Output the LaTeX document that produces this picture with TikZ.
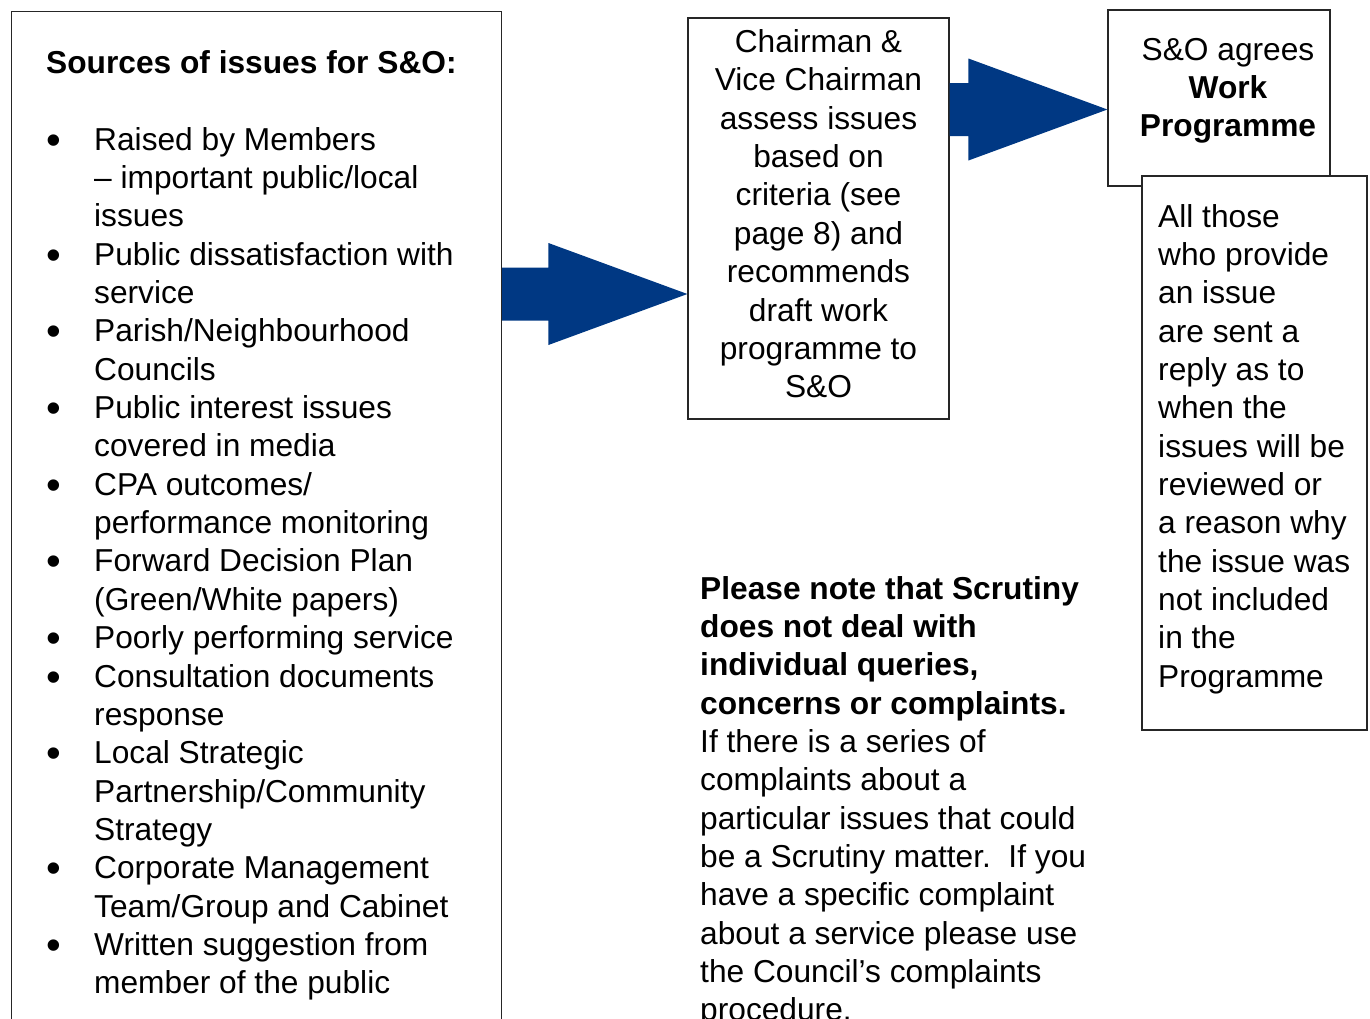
\documentclass[tikz,border=0pt]{standalone}
\usepackage{fontspec}
\setmainfont{Liberation Sans}
\usetikzlibrary{calc}

\definecolor{arrowblue}{RGB}{0,56,131}

\tikzset{
  box/.style={rectangle, draw=black!85, line width=1.2pt, fill=white, inner sep=0pt},
  txt/.style={inner sep=0pt, font=\fontsize{31.7}{38.36}\selectfont},
}

% bullet of the source list
\newcommand{\itembullet}{\raisebox{-4pt}{\fontsize{42}{38}\selectfont\textbullet}}

% fat block arrow, shaft from #1, tip at #2
\newcommand{\blockarrow}[2]{%
  \fill[arrowblue] ($(#1)+(0,-26.5)$) -- ($(#2)+(-139,-26.5)$) -- ($(#2)+(-139,-51)$)
    -- (#2) -- ($(#2)+(-139,51)$) -- ($(#2)+(-139,26.5)$) -- ($(#1)+(0,26.5)$) -- cycle;}

\begin{document}
\begin{tikzpicture}[x=1pt,y=-1pt]
\useasboundingbox (0,0) rectangle (1370,1018);
\clip (0,0) rectangle (1370,1018);

% sources
\node[box, anchor=north west, minimum width=490pt, minimum height=1100pt] (sources) at (11,11) {};
\node[txt, anchor=base west] (sourcetitle) at (46,73) {\textbf{Sources of issues for S\&O:}};
\node[txt, anchor=base west] (sourcelist) at (46,150) {%
\begin{tabular}[t]{@{}p{48pt}@{}l@{}}
\itembullet & Raised by Members\\
 & – important public/local\\
 & issues\\
\itembullet & Public dissatisfaction with\\
 & service\\
\itembullet & Parish/Neighbourhood\\
 & Councils\\
\itembullet & Public interest issues\\
 & covered in media\\
\itembullet & CPA outcomes/\\
 & performance monitoring\\
\itembullet & Forward Decision Plan\\
 & (Green/White papers)\\
\itembullet & Poorly performing service\\
\itembullet & Consultation documents\\
 & response\\
\itembullet & Local Strategic\\
 & Partnership/Community\\
 & Strategy\\
\itembullet & Corporate Management\\
 & Team/Group and Cabinet\\
\itembullet & Written suggestion from\\
 & member of the public
\end{tabular}};

% chairmen
\node[box, minimum width=261pt, minimum height=401pt] (assess) at (818.5,218.5) {};
\node[txt, anchor=base] (assesstxt) at (818.5,52.5) {%
\begin{tabular}[t]{@{}c@{}}
Chairman \&\\
Vice Chairman\\
assess issues\\
based on\\
criteria (see\\
page 8) and\\
recommends\\
draft work\\
programme to\\
S\&O
\end{tabular}};

% work programme
\node[box, minimum width=222pt, minimum height=176pt] (agree) at (1219,98) {};
\node[txt, anchor=base] (agreetxt) at (1228,60) {%
\begin{tabular}[t]{@{}c@{}}
S\&O agrees\\
\textbf{Work}\\
\textbf{Programme}
\end{tabular}};

\node[box, minimum width=225pt, minimum height=554pt] (reply) at (1254.5,453) {};
\node[txt, anchor=base west] (replytxt) at (1158,227) {%
\begin{tabular}[t]{@{}l@{}}
All those\\
who provide\\
an issue\\
are sent a\\
reply as to\\
when the\\
issues will be\\
reviewed or\\
a reason why\\
the issue was\\
not included\\
in the\\
Programme
\end{tabular}};

% note
\node[txt, anchor=base west] (note) at (700,599) {%
\begin{tabular}[t]{@{}l@{}}
\textbf{Please note that Scrutiny}\\
\textbf{does not deal with}\\
\textbf{individual queries,}\\
\textbf{concerns or complaints.}\\
If there is a series of\\
complaints about a\\
particular issues that could\\
be a Scrutiny matter.\ \ If you\\
have a specific complaint\\
about a service please use\\
the Council’s complaints\\
procedure.
\end{tabular}};

% arrows
\coordinate (a1s) at (sources.east |- 0,294);
\coordinate (a1e) at (assess.west |- 0,294);
\coordinate (a2s) at (assess.east |- 0,109.5);
\coordinate (a2e) at (agree.west |- 0,109.5);
\blockarrow{a1s}{a1e}
\blockarrow{a2s}{a2e}

\end{tikzpicture}
\end{document}
